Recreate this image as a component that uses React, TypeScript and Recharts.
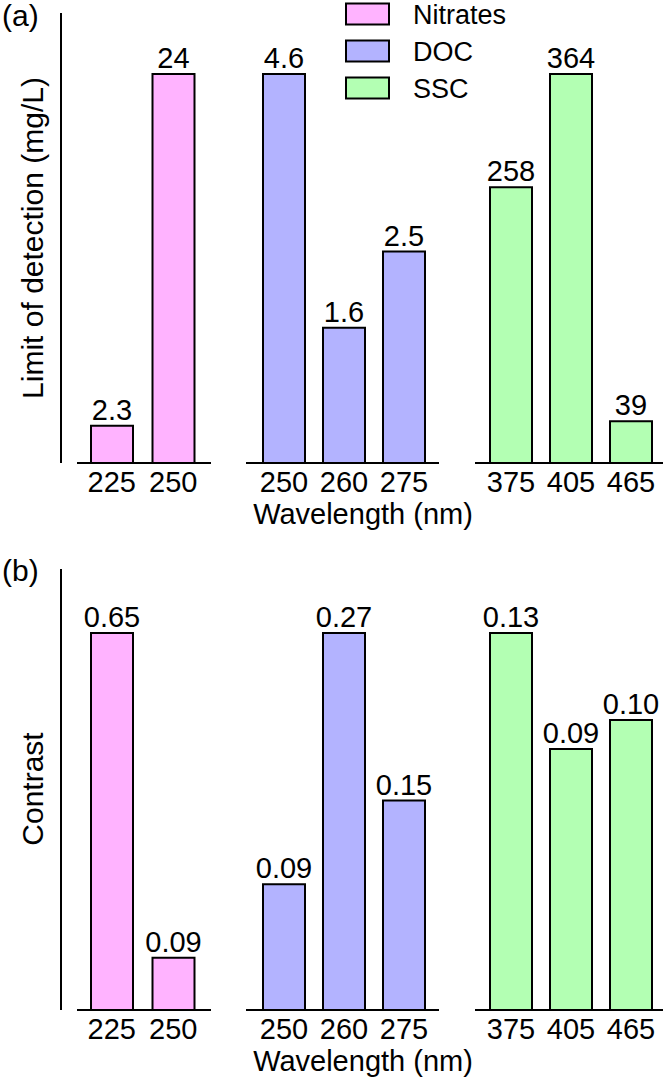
import { Bar, BarChart, LabelList, XAxis, YAxis } from "recharts";

// wavelengths (nm) per analyte
const nitrateWl = ["225", "250"];
const docWl = ["250", "260", "275"];
const sscWl = ["375", "405", "465"];

// (a) limit of detection, mg/L
const nitrateLod = [2.3, 24];
const docLod = [4.6, 1.6, 2.5];
const sscLod = [258, 364, 39];

// (b) contrast
const nitrateContrast = [0.65, 0.09];
const docContrast = [0.09, 0.27, 0.15];
const sscContrast = [0.13, 0.09, 0.1];

const COLORS = {
  nitrates: "#ffb3ff",
  doc: "#b3b3ff",
  ssc: "#b3ffb3",
};

const FONT = '"Liberation Sans", Arial, sans-serif';

// each analyte gets its own little chart (own y-scale), laid side by side
const GROUP_LAYOUT = [
  { left: 77, width: 134, pad: { left: 4, right: 7 } },
  { left: 246, width: 193, pad: { left: 8, right: 5 } },
  { left: 475, width: 188, pad: { left: 6, right: 2 } },
];

const toRows = (wl: string[], vals: number[]) =>
  wl.map((w, i) => ({ wl: w, v: vals[i] }));

type GroupProps = {
  rows: { wl: string; v: number }[];
  color: string;
  top: number;
  height: number;
  layout: (typeof GROUP_LAYOUT)[number];
  fmt: (v: number) => string;
};

function GroupChart({ rows, color, top, height, layout, fmt }: GroupProps) {
  return (
    <div style={{ position: "absolute", left: layout.left, top }}>
      <BarChart
        width={layout.width}
        height={height}
        data={rows}
        margin={{ top: 50, right: 0, bottom: 0, left: 0 }}
        barSize={42}
      >
        <XAxis
          dataKey="wl"
          axisLine={{ stroke: "#000", strokeWidth: 2 }}
          tickLine={false}
          tick={{ fontSize: 29, fill: "#000" }}
          padding={layout.pad}
          interval={0}
          height={40}
        />
        <YAxis hide domain={[0, "dataMax"]} />
        <Bar
          dataKey="v"
          fill={color}
          stroke="#000"
          strokeWidth={2}
          isAnimationActive={false}
        >
          <LabelList
            dataKey="v"
            position="top"
            offset={6}
            formatter={(v: any) => fmt(Number(v))}
            fill="#000"
            fontSize={29}
          />
        </Bar>
      </BarChart>
    </div>
  );
}

const lodFmt = (v: number) => String(v);
const contrastFmt = (v: number) => v.toFixed(2);

export default function App() {
  // panel a: plot 74..463, panel b: plot 633..1010
  const panelA = { top: 24, height: 479 };
  const panelB = { top: 583, height: 467 };

  const groupsA = [
    { rows: toRows(nitrateWl, nitrateLod), color: COLORS.nitrates },
    { rows: toRows(docWl, docLod), color: COLORS.doc },
    { rows: toRows(sscWl, sscLod), color: COLORS.ssc },
  ];
  const groupsB = [
    { rows: toRows(nitrateWl, nitrateContrast), color: COLORS.nitrates },
    { rows: toRows(docWl, docContrast), color: COLORS.doc },
    { rows: toRows(sscWl, sscContrast), color: COLORS.ssc },
  ];

  const legend = [
    { name: "Nitrates", color: COLORS.nitrates },
    { name: "DOC", color: COLORS.doc },
    { name: "SSC", color: COLORS.ssc },
  ];

  return (
    <div
      style={{
        position: "absolute",
        left: 0,
        top: 0,
        width: 667,
        height: 1082,
        background: "#fff",
        fontFamily: FONT,
      }}
    >
      {groupsA.map((g, i) => (
        <GroupChart
          key={"a" + i}
          rows={g.rows}
          color={g.color}
          top={panelA.top}
          height={panelA.height}
          layout={GROUP_LAYOUT[i]}
          fmt={lodFmt}
        />
      ))}
      {groupsB.map((g, i) => (
        <GroupChart
          key={"b" + i}
          rows={g.rows}
          color={g.color}
          top={panelB.top}
          height={panelB.height}
          layout={GROUP_LAYOUT[i]}
          fmt={contrastFmt}
        />
      ))}

      {/* axes lines, titles, panel tags and legend */}
      <svg
        width={667}
        height={1082}
        style={{ position: "absolute", left: 0, top: 0, pointerEvents: "none" }}
        fontFamily={FONT}
      >
        <line x1={61} y1={13} x2={61} y2={463} stroke="#000" strokeWidth={2} />
        <line x1={61} y1={569} x2={61} y2={1010} stroke="#000" strokeWidth={2} />

        <text x={2} y={26} fontSize={30}>(a)</text>
        <text x={2} y={581} fontSize={30}>(b)</text>

        <text
          transform="translate(43,238) rotate(-90)"
          textAnchor="middle"
          fontSize={30}
        >
          Limit of detection (mg/L)
        </text>
        <text
          transform="translate(43,789) rotate(-90)"
          textAnchor="middle"
          fontSize={30}
        >
          Contrast
        </text>

        <text x={363} y={524} textAnchor="middle" fontSize={29}>
          Wavelength (nm)
        </text>
        <text x={363} y={1071} textAnchor="middle" fontSize={29}>
          Wavelength (nm)
        </text>

        {legend.map((l, i) => (
          <g key={l.name}>
            <rect
              x={346}
              y={3.5 + i * 37}
              width={43}
              height={21}
              fill={l.color}
              stroke="#000"
              strokeWidth={2}
            />
            <text x={413} y={24 + i * 37} fontSize={27}>
              {l.name}
            </text>
          </g>
        ))}
      </svg>
    </div>
  );
}
